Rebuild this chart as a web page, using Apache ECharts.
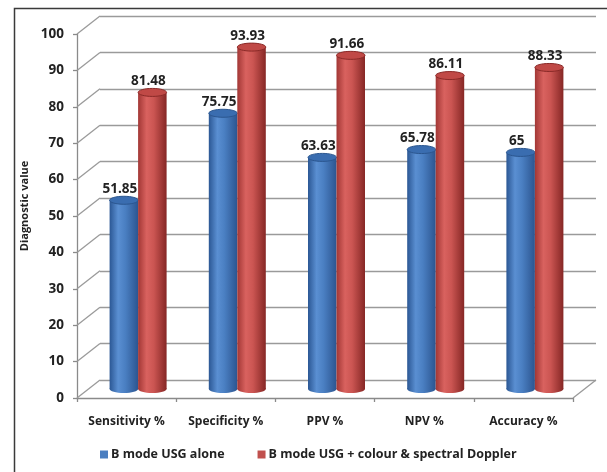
<!DOCTYPE html>
<html>
<head>
<meta charset="utf-8">
<script src="https://cdn.jsdelivr.net/npm/echarts@6/dist/echarts.min.js"></script>
<style>
  html, body { margin: 0; padding: 0; background: #fff; }
  #chart { width: 607px; height: 472px; }
</style>
</head>
<body>
<div id="chart"></div>
<script>
// Diagnostic performance of B-mode ultrasound with and without Doppler
const categories = ['Sensitivity %', 'Specificity %', 'PPV %', 'NPV %', 'Accuracy %'];
const seriesNames = ['B mode USG alone', 'B mode USG + colour & spectral Doppler'];
const bModeAlone = [51.85, 75.75, 63.63, 65.78, 65];
const bModeDoppler = [81.48, 93.93, 91.66, 86.11, 88.33];
const yTicks = [0, 10, 20, 30, 40, 50, 60, 70, 80, 90, 100];

// pseudo-3D depth of the plot box (back wall offset from the front axes)
const DEPTH_X = 23;
const DEPTH_Y = -18;
const BAR_W = 28.5;
const FONT = '"Open Sans", "Liberation Sans", sans-serif';

const palettes = [
  {
    stops: [
      { offset: 0, color: '#2b5794' },
      { offset: 0.3, color: '#5a8fd2' },
      { offset: 0.55, color: '#4a7fc2' },
      { offset: 1, color: '#2c5590' }
    ],
    top: '#3a6db0', rim: '#2b568f', legend: '#4a7ec0'
  },
  {
    stops: [
      { offset: 0, color: '#a23735' },
      { offset: 0.3, color: '#d9625f' },
      { offset: 0.55, color: '#cb5552' },
      { offset: 1, color: '#862725' }
    ],
    top: '#c04946', rim: '#8a2a28', legend: '#c0504d'
  }
];

function cylinder(si) {
  const pal = palettes[si];
  const side = si === 0 ? -1 : 1;
  return function (params, api) {
    const idx = api.value(0);
    const val = api.value(1);
    const base = api.coord([idx, 0]);
    const top = api.coord([idx, val]);
    const cx = base[0] + DEPTH_X / 2 + side * BAR_W / 2;
    const by = base[1] + DEPTH_Y / 2;
    const ty = top[1] + DEPTH_Y / 2;
    const rx = BAR_W / 2, ry = 4;
    const grad = new echarts.graphic.LinearGradient(0, 0, 1, 0, pal.stops);
    return {
      type: 'group',
      children: [
        { type: 'ellipse', shape: { cx: cx, cy: by, rx: rx, ry: ry }, style: { fill: grad } },
        { type: 'rect', shape: { x: cx - rx, y: ty, width: BAR_W, height: by - ty }, style: { fill: grad } },
        { type: 'ellipse', shape: { cx: cx, cy: ty, rx: rx, ry: ry },
          style: { fill: pal.top, stroke: pal.rim, lineWidth: 1 } },
        { type: 'text', style: {
            text: String(val), x: cx - 4, y: ty - 11, align: 'center', verticalAlign: 'middle',
            fontFamily: FONT, fontWeight: 'bold', fontSize: 13.5, fill: '#222' } }
      ]
    };
  };
}

// side-wall diagonals joining the front tick marks to the back wall gridlines
function wallEdges(params, api) {
  const v = api.value(0);
  const cs = params.coordSys;
  const y = api.coord([0, v])[1];
  const st = { stroke: '#9a9a9a', lineWidth: 1.3 };
  const children = [
    { type: 'line', shape: { x1: cs.x, y1: y, x2: cs.x + DEPTH_X, y2: y + DEPTH_Y }, style: st }
  ];
  if (v === 0) {
    const xr = cs.x + cs.width;
    children.push({ type: 'line', shape: { x1: xr, y1: y, x2: xr + DEPTH_X, y2: y + DEPTH_Y }, style: st });
  }
  return { type: 'group', children: children };
}

const chart = echarts.init(document.getElementById('chart'), null, { renderer: 'canvas' });

chart.setOption({
  animation: false,
  backgroundColor: '#fff',
  graphic: [{
    type: 'rect', left: 12, top: 6, z: -10,
    shape: { width: 640, height: 500 },
    style: { fill: 'none', stroke: '#3a3a3a', lineWidth: 1.5 }
  }],
  grid: [
    { left: 77, right: 34, top: 34, bottom: 74 },
    { left: 77 + DEPTH_X, right: 34 - DEPTH_X, top: 34 + DEPTH_Y, bottom: 74 - DEPTH_Y }
  ],
  xAxis: [
    {
      type: 'category', gridIndex: 0, data: categories,
      axisLine: { lineStyle: { color: '#8a8a8a', width: 1.3 } },
      axisTick: { show: true, length: 4, lineStyle: { color: '#8a8a8a', width: 1.3 } },
      axisLabel: { interval: 0, color: '#222', fontFamily: FONT, fontWeight: 'bold', fontSize: 12, margin: 18 }
    },
    { type: 'value', gridIndex: 1, show: false, min: 0, max: 1 }
  ],
  yAxis: [
    {
      type: 'value', gridIndex: 0, min: 0, max: 100, interval: 10,
      name: 'Diagnostic value', nameLocation: 'middle', nameGap: 44,
      nameTextStyle: { color: '#222', fontFamily: FONT, fontWeight: 'bold', fontSize: 11, padding: [0, 0, 0, 20] },
      axisLine: { show: true, lineStyle: { color: '#8a8a8a', width: 1.3 } },
      axisTick: { show: true, length: 4, lineStyle: { color: '#8a8a8a', width: 1.3 } },
      axisLabel: { color: '#222', fontFamily: FONT, fontWeight: 'bold', fontSize: 13.5, margin: 13 },
      splitLine: { show: false }
    },
    {
      type: 'value', gridIndex: 1, min: 0, max: 100, interval: 10,
      axisLine: { show: false }, axisTick: { show: false }, axisLabel: { show: false },
      splitLine: { show: true, lineStyle: { color: '#9a9a9a', width: 1.3 } }
    }
  ],
  legend: {
    data: seriesNames,
    left: 100, top: 448, padding: 0,
    icon: 'rect', itemWidth: 8, itemHeight: 8, itemGap: 33,
    textStyle: { color: '#222', fontFamily: FONT, fontWeight: 'bold', fontSize: 12.5, padding: [0, 0, 0, -2] }
  },
  series: [
    {
      type: 'custom', name: 'wall', xAxisIndex: 0, yAxisIndex: 0, z: 1,
      data: yTicks.map(v => [v]), encode: { y: 0 },
      renderItem: wallEdges, silent: true
    },
    {
      type: 'custom', name: seriesNames[0], xAxisIndex: 0, yAxisIndex: 0, z: 5,
      itemStyle: { color: palettes[0].legend },
      data: bModeAlone.map((v, i) => [i, v]), encode: { x: 0, y: 1 },
      renderItem: cylinder(0)
    },
    {
      type: 'custom', name: seriesNames[1], xAxisIndex: 0, yAxisIndex: 0, z: 6,
      itemStyle: { color: palettes[1].legend },
      data: bModeDoppler.map((v, i) => [i, v]), encode: { x: 0, y: 1 },
      renderItem: cylinder(1)
    }
  ]
});
</script>
</body>
</html>
